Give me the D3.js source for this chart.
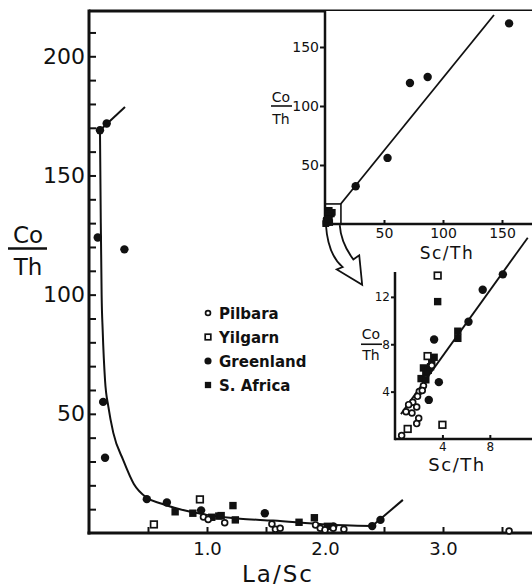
<!DOCTYPE html>
<html>
<head>
<meta charset="utf-8">
<script src="https://cdn.jsdelivr.net/npm/d3@7"></script>
<style>
  body { margin: 0; background: #fff; }
  svg { display: block; }
  text { font-family: "DejaVu Sans", sans-serif; fill: #111; }
</style>
</head>
<body>
<svg id="chart" width="532" height="588"></svg>
<script>
// ---- Main panel: Co/Th against La/Sc ----
const pilbaraMain = [[0.97,6.7],[1.01,5.7],[1.15,4.3],[1.55,3.8],[1.58,1.6],[1.62,2.0],
  [1.92,3.4],[1.96,2.0],[2.00,1.3],[2.07,2.0],[2.16,1.6],[3.56,0.8]];
const yilgarnMain = [[0.55,3.6],[0.94,14.1]];
const greenlandMain = [[0.093,169],[0.15,171.8],[0.074,124],[0.30,119],[0.12,55],[0.136,31.6],
  [0.49,14.2],[0.66,12.8],[0.95,9.5],[1.49,8.3],[2.07,2.8],[2.40,2.9],[2.47,5.5]];
const safricaMain = [[0.73,8.9],[0.88,8.3],[1.04,6.6],[1.10,7.1],[1.12,7.3],[1.22,11.5],
  [1.24,5.5],[1.78,4.5],[1.91,6.4],[2.02,2.8]];

// mixing curve and its two end extensions
const mixCurve = [[0.093,169],[0.100,130],[0.107,100],[0.116,85],[0.136,64],[0.164,53],
  [0.206,42],[0.29,30.6],[0.38,20.6],[0.49,14.8],[0.61,12.4],[0.77,10.0],[1.0,7.6],
  [1.28,6.0],[1.56,5.2],[2.0,3.6],[2.4,2.9]];
const upperTail = [[0.093,169],[0.305,178.7]];
const lowerTail = [[2.40,2.9],[2.66,13.9]];

const mainYTicks = d3.range(10, 220, 10);
const mainYLabels = [50, 100, 150, 200];
const mainXTicks = [0.5, 1.0, 1.5, 2.0, 2.5, 3.0, 3.5];
const mainXLabels = [1.0, 2.0, 3.0];

// ---- Upper inset: Co/Th against Sc/Th ----
const greenlandUpper = [[26,32],[53,56],[72,119.5],[87,124.6],[156,170]];
const upperFit = [[13.3,16.9],[143.2,177.1]];
const upperTicks = [50, 100, 150];

// ---- Lower inset: enlarged Co/Th against Sc/Th ----
const pilbaraLower = [[3.1,6.2],[2.4,4.5],[2.05,4.0],[1.9,3.6],[1.5,3.1],[1.15,2.9],[1.83,2.7],
  [0.93,2.3],[1.43,2.2],[2.0,1.75],[1.83,1.3],[0.56,0.3],[2.3,4.1]];
const yilgarnLower = [[3.6,13.8],[2.75,7.0],[4.0,1.2],[1.07,0.85]];
const greenlandLower = [[9.1,13.9],[7.4,12.6],[6.2,9.9],[3.3,8.4],[3.7,4.8],[2.85,3.3]];
const safricaLower = [[3.6,11.6],[5.3,9.1],[5.3,8.5],[3.3,6.9],[3.1,6.6],[2.4,6.0],[2.6,5.6],
  [2.2,5.1],[2.6,5.0],[2.8,5.8],[3.0,6.1]];
const lowerFit = [[0.5,2.1],[11.2,17.0]];
const lowerYTicks = [4, 8, 12];
const lowerXTicks = [4, 8];

const legendNames = ["Pilbara", "Yilgarn", "Greenland", "S. Africa"];
const legendKinds = ["circleOpen", "squareOpen", "circleFilled", "squareFilled"];

// ---------------------------------------------------------------
const svg = d3.select("#chart");
const ink = "#111";

const xMain = d3.scaleLinear().domain([0, 4]).range([89, 561]);
const yMain = d3.scaleLinear().domain([0, 219]).range([533, 11]);

const xUp = d3.scaleLinear().domain([0, 175]).range([325, 531.5]);
const yUp = d3.scaleLinear().domain([0, 180.5]).range([224, 11]);

const xLow = d3.scaleLinear().domain([0, 11.6]).range([395, 532.5]);
const yLow = d3.scaleLinear().domain([0, 14.1]).range([439, 272]);

function drawMarkers(g, data, kind, xs, ys, size) {
  const s = size || 1;
  data.forEach(([a, b]) => {
    const cx = xs(a), cy = ys(b);
    if (kind === "circleFilled") {
      g.append("circle").attr("cx", cx).attr("cy", cy).attr("r", 4.2 * s).attr("fill", ink);
    } else if (kind === "circleOpen") {
      g.append("circle").attr("cx", cx).attr("cy", cy).attr("r", 2.9 * s)
        .attr("fill", "#fff").attr("stroke", ink).attr("stroke-width", 1.7);
    } else if (kind === "squareFilled") {
      const h = 3.7 * s;
      g.append("rect").attr("x", cx - h).attr("y", cy - h).attr("width", 2 * h).attr("height", 2 * h)
        .attr("fill", ink);
    } else {
      const h = 3.3 * s;
      g.append("rect").attr("x", cx - h).attr("y", cy - h).attr("width", 2 * h).attr("height", 2 * h)
        .attr("fill", "#fff").attr("stroke", ink).attr("stroke-width", 1.7);
    }
  });
}

function styleAxis(g, fontSize, width) {
  g.select(".domain").remove();
  g.selectAll(".tick line").attr("stroke", ink).attr("stroke-width", width);
  g.selectAll(".tick text").attr("font-size", fontSize).attr("fill", ink)
    .attr("font-family", "DejaVu Sans, sans-serif");
}

// ---- main panel ----
const main = svg.append("g");

const yAxisMain = d3.axisLeft(yMain).tickValues(mainYTicks).tickSizeInner(-7).tickSizeOuter(0)
  .tickPadding(4).tickFormat(d => mainYLabels.includes(d) ? d : "");
const gy = main.append("g").attr("transform", `translate(${xMain(0)},0)`).call(yAxisMain);
styleAxis(gy, 22, 2);

const xAxisMain = d3.axisBottom(xMain).tickValues(mainXTicks).tickSizeInner(-6).tickSizeOuter(0)
  .tickPadding(9).tickFormat(d => mainXLabels.includes(d) ? d3.format(".1f")(d) : "");
const gx = main.append("g").attr("transform", `translate(0,${yMain(0)})`).call(xAxisMain);
styleAxis(gx, 18, 2);

// frame lines
main.append("line").attr("x1", xMain(0)).attr("x2", 532).attr("y1", yMain(219)).attr("y2", yMain(219))
  .attr("stroke", ink).attr("stroke-width", 3);
main.append("line").attr("x1", xMain(0)).attr("x2", xMain(0)).attr("y1", yMain(219) - 1.5).attr("y2", yMain(0) + 1.5)
  .attr("stroke", ink).attr("stroke-width", 3);
main.append("line").attr("x1", xMain(0) - 1.5).attr("x2", 532).attr("y1", yMain(0)).attr("y2", yMain(0))
  .attr("stroke", ink).attr("stroke-width", 3);

const lineMain = d3.line().x(d => xMain(d[0])).y(d => yMain(d[1]));
main.append("path").datum(mixCurve).attr("d", lineMain.curve(d3.curveMonotoneX))
  .attr("fill", "none").attr("stroke", ink).attr("stroke-width", 2);
const straightMain = d3.line().x(d => xMain(d[0])).y(d => yMain(d[1]));
[upperTail, lowerTail].forEach(seg => {
  main.append("path").datum(seg).attr("d", straightMain)
    .attr("fill", "none").attr("stroke", ink).attr("stroke-width", 2);
});

const mk = main.append("g");
drawMarkers(mk, safricaMain, "squareFilled", xMain, yMain);
drawMarkers(mk, greenlandMain, "circleFilled", xMain, yMain);
drawMarkers(mk, yilgarnMain, "squareOpen", xMain, yMain);
drawMarkers(mk, pilbaraMain, "circleOpen", xMain, yMain);

// axis titles of the main panel
main.append("text").attr("x", 28).attr("y", 243).attr("text-anchor", "middle")
  .attr("font-size", 23).text("Co");
main.append("line").attr("x1", 8).attr("x2", 47).attr("y1", 248.5).attr("y2", 248.5)
  .attr("stroke", ink).attr("stroke-width", 2.5);
main.append("text").attr("x", 28).attr("y", 275).attr("text-anchor", "middle")
  .attr("font-size", 23).text("Th");
main.append("text").attr("x", 278).attr("y", 582).attr("text-anchor", "middle")
  .attr("font-size", 23).attr("letter-spacing", 2).text("La/Sc");

// legend
const leg = main.append("g");
legendNames.forEach((name, i) => {
  const ly = 313 + i * 24;
  const one = [[0, 0]];
  drawMarkers(leg, one, legendKinds[i], v => 208 + v, v => ly + v, 0.85);
  leg.append("text").attr("x", 219).attr("y", ly + 6).attr("font-size", 15)
    .attr("font-weight", "bold").text(name);
});

// ---- upper inset ----
const up = svg.append("g");
up.append("rect").attr("x", xUp(0)).attr("y", yUp(180.5)).attr("width", 532 - xUp(0))
  .attr("height", yUp(0) - yUp(180.5)).attr("fill", "#fff");

const gyUp = up.append("g").attr("transform", `translate(${xUp(0)},0)`)
  .call(d3.axisLeft(yUp).tickValues(upperTicks).tickSizeInner(5).tickSizeOuter(0).tickPadding(1));
styleAxis(gyUp, 14, 2);
const gxUp = up.append("g").attr("transform", `translate(0,${yUp(0)})`)
  .call(d3.axisBottom(xUp).tickValues(upperTicks).tickSizeInner(-4).tickSizeOuter(0).tickPadding(4));
styleAxis(gxUp, 14, 2);
up.append("line").attr("x1", xUp(0)).attr("x2", xUp(0)).attr("y1", yUp(180.5)).attr("y2", yUp(0) + 1.2)
  .attr("stroke", ink).attr("stroke-width", 2.5);
up.append("line").attr("x1", xUp(0)).attr("x2", 532).attr("y1", yUp(0)).attr("y2", yUp(0))
  .attr("stroke", ink).attr("stroke-width", 2.5);

const lineUp = d3.line().x(d => xUp(d[0])).y(d => yUp(d[1]));
up.append("path").datum(upperFit).attr("d", lineUp).attr("fill", "none")
  .attr("stroke", ink).attr("stroke-width", 1.8);

// enlarged region marker and the clustered points inside it
const boxW = 13.5, boxH = 17;
up.append("rect").attr("x", xUp(0)).attr("y", yUp(boxH)).attr("width", xUp(boxW) - xUp(0))
  .attr("height", yUp(0) - yUp(boxH)).attr("fill", "none").attr("stroke", ink).attr("stroke-width", 1.6);
const upMk = up.append("g");
[safricaLower, greenlandLower, yilgarnLower, pilbaraLower].forEach(set => {
  drawMarkers(upMk, set.filter(d => d[0] < 8 && d[1] < 12), "squareFilled", xUp, yUp, 0.9);
});
drawMarkers(upMk, greenlandUpper, "circleFilled", xUp, yUp);

// hollow curved arrow from the marked region down to the lower inset
const arrowPts = {
  l0: [0.8, -1], lc: [2.5, -26], l1: [15.0, -36.5], lb: [10.0, -38.5], tip: [31.5, -51.5],
  rb: [29.0, -26.5], r1: [24.0, -30.0], rc: [13.5, -16], r0: [12.5, -1]
};
const P = k => `${xUp(arrowPts[k][0])},${yUp(arrowPts[k][1])}`;
up.append("path")
  .attr("d", `M${P("l0")} Q${P("lc")} ${P("l1")} L${P("lb")} L${P("tip")} L${P("rb")} L${P("r1")} Q${P("rc")} ${P("r0")}`)
  .attr("fill", "none").attr("stroke", ink).attr("stroke-width", 1.8).attr("stroke-linejoin", "miter");

up.append("text").attr("x", 281).attr("y", 102).attr("text-anchor", "middle").attr("font-size", 14).text("Co");
up.append("line").attr("x1", 271).attr("x2", 292).attr("y1", yUp(100)).attr("y2", yUp(100))
  .attr("stroke", ink).attr("stroke-width", 1.6);
up.append("text").attr("x", 281).attr("y", 124).attr("text-anchor", "middle").attr("font-size", 14).text("Th");
up.append("text").attr("x", 447).attr("y", 259).attr("text-anchor", "middle")
  .attr("font-size", 17).attr("letter-spacing", 1.5).text("Sc/Th");

// ---- lower inset ----
const low = svg.append("g");
const gyLow = low.append("g").attr("transform", `translate(${xLow(0)},0)`)
  .call(d3.axisLeft(yLow).tickValues(lowerYTicks).tickSizeInner(4).tickSizeOuter(0).tickPadding(1));
styleAxis(gyLow, 12, 2);
const gxLow = low.append("g").attr("transform", `translate(0,${yLow(0)})`)
  .call(d3.axisBottom(xLow).tickValues(lowerXTicks).tickSizeInner(-4).tickSizeOuter(0).tickPadding(3));
styleAxis(gxLow, 12, 2);
low.append("line").attr("x1", xLow(0)).attr("x2", xLow(0)).attr("y1", yLow(14.1)).attr("y2", yLow(0) + 1.2)
  .attr("stroke", ink).attr("stroke-width", 2.5);
low.append("line").attr("x1", xLow(0)).attr("x2", 532).attr("y1", yLow(0)).attr("y2", yLow(0))
  .attr("stroke", ink).attr("stroke-width", 2.5);

const lineLow = d3.line().x(d => xLow(d[0])).y(d => yLow(d[1]));
low.append("path").datum(lowerFit).attr("d", lineLow).attr("fill", "none")
  .attr("stroke", ink).attr("stroke-width", 1.8);

const lowMk = low.append("g");
drawMarkers(lowMk, safricaLower, "squareFilled", xLow, yLow);
drawMarkers(lowMk, greenlandLower, "circleFilled", xLow, yLow);
drawMarkers(lowMk, yilgarnLower, "squareOpen", xLow, yLow);
drawMarkers(lowMk, pilbaraLower, "circleOpen", xLow, yLow);

low.append("text").attr("x", 371).attr("y", 339).attr("text-anchor", "middle").attr("font-size", 14).text("Co");
low.append("line").attr("x1", 361).attr("x2", 382).attr("y1", yLow(8)).attr("y2", yLow(8))
  .attr("stroke", ink).attr("stroke-width", 1.6);
low.append("text").attr("x", 371).attr("y", 360).attr("text-anchor", "middle").attr("font-size", 14).text("Th");
low.append("text").attr("x", 457).attr("y", 471).attr("text-anchor", "middle")
  .attr("font-size", 18).attr("letter-spacing", 1.5).text("Sc/Th");
</script>
</body>
</html>
